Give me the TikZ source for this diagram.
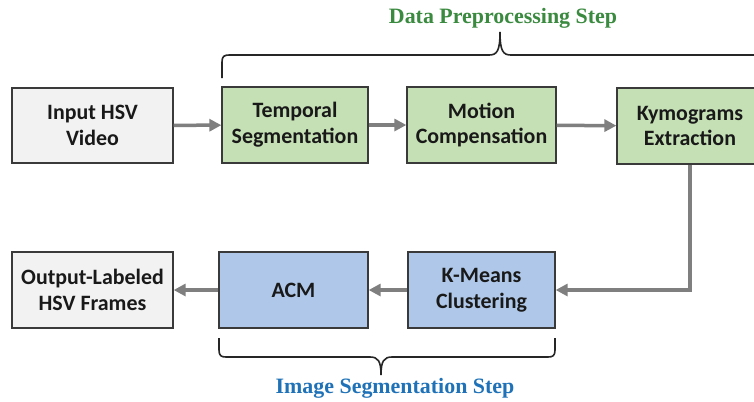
\documentclass[tikz,border=0pt]{standalone}
\usepackage{fontspec}
\setmainfont{Carlito}
\newfontfamily\titlefont{Liberation Serif}
\usetikzlibrary{arrows.meta}
\definecolor{boxgreen}{HTML}{C5E0B4}
\definecolor{boxblue}{HTML}{AFC8E9}
\definecolor{boxgray}{HTML}{F2F2F2}
\definecolor{arrgray}{HTML}{7F7F7F}
\definecolor{ttlgreen}{HTML}{3A8A3F}
\definecolor{ttlblue}{HTML}{1F72B8}
\definecolor{edge}{HTML}{3A3A3A}
\tikzset{
  blk/.style={draw=edge, line width=1.3bp, align=center, inner sep=0pt,
    font=\fontsize{22}{26}\selectfont\bfseries, text=black!90},
  flow/.style={draw=arrgray, line width=3.5bp, -{Triangle[length=12bp,width=12bp]}},
  brc/.style={draw=black!85, line width=1.6bp},
  ttl/.style={font=\titlefont\fontsize{22}{24}\selectfont\bfseries}
}
\begin{document}
\begin{tikzpicture}[x=1bp,y=-1bp]
\clip (0,0) rectangle (754,401);
\fill[white] (0,0) rectangle (754,401);
% top row
\node[blk, fill=boxgray, minimum width=161bp, minimum height=75bp] (inp) at (92.5,125.5) {Input HSV\\Video};
\node[blk, fill=boxgreen, minimum width=146bp, minimum height=76bp] (tmp) at (295,125) {Temporal\\Segmentation};
\node[blk, fill=boxgreen, minimum width=149bp, minimum height=76bp] (mot) at (481.5,125) {Motion\\Compensation};
\node[blk, fill=boxgreen, minimum width=146bp, minimum height=76bp] (kym) at (690,126) {Kymograms\\Extraction};
% bottom row
\node[blk, fill=boxgray, minimum width=161bp, minimum height=76bp] (out) at (92.5,290) {Output-Labeled\\HSV Frames};
\node[blk, fill=boxblue, minimum width=149bp, minimum height=76bp] (acm) at (293.5,290) {ACM};
\node[blk, fill=boxblue, minimum width=147bp, minimum height=76bp] (kmc) at (481.5,290) {K-Means\\Clustering};
% arrows
\draw[flow] (inp) -- (tmp);
\draw[flow] (tmp) -- (mot);
\draw[flow] (mot) -- (kym);
\draw[flow] (kym.south) |- (kmc.east);
\draw[flow] (kmc) -- (acm);
\draw[flow] (acm) -- (out);
% top brace
\draw[brc] (222,78) -- (222,62) .. controls (222,56.5) and (224,55) .. (229,55)
  -- (489,55) .. controls (497,55) and (500,51) .. (500,32)
  .. controls (500,51) and (503,55) .. (511,55) -- (760,55);
\node[ttl, text=ttlgreen] (ttop) at (503,18) {Data Preprocessing Step};
% bottom brace
\draw[brc] (219,338) -- (219,350) .. controls (219,355.5) and (221,357) .. (226,357)
  -- (370,357) .. controls (378,357) and (381,361) .. (381,375)
  .. controls (381,361) and (384,357) .. (392,357)
  -- (548,357) .. controls (553,357) and (555,355.5) .. (555,350) -- (555,338);
\node[ttl, text=ttlblue] (tbot) at (395,388) {Image Segmentation Step};
\end{tikzpicture}
\end{document}
